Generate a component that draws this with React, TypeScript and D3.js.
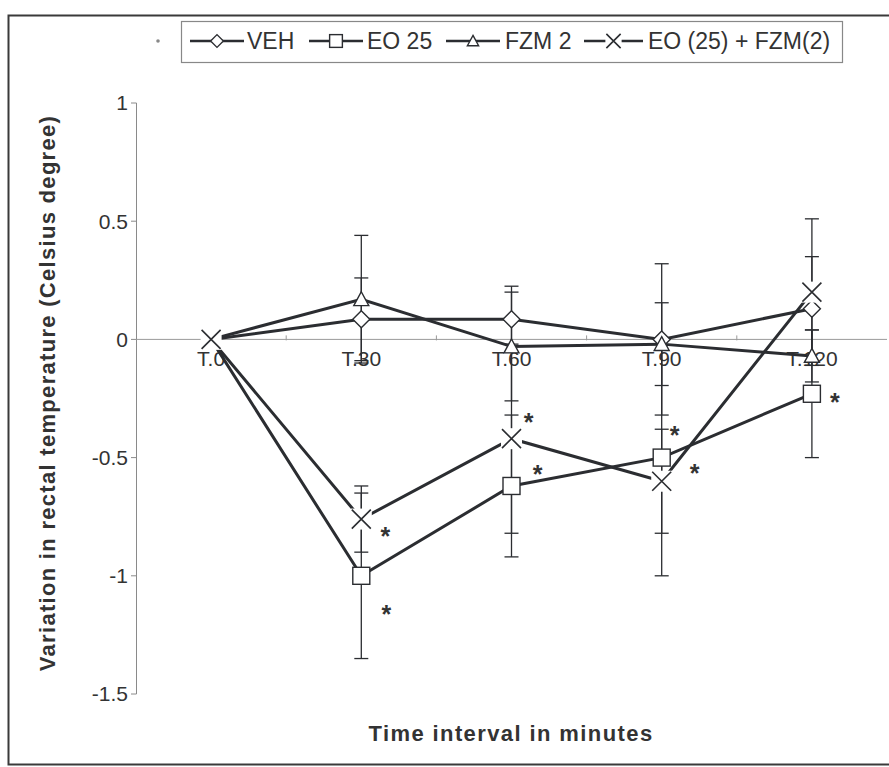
import * as d3 from 'd3'

// Rectal temperature variation, mean ± error, per treatment group
const categories = ['T.0', 'T.30', 'T.60', 'T.90', 'T.120']
const yTicks = [1, 0.5, 0, -0.5, -1, -1.5]

const vehMean = [0, 0.085, 0.085, 0.0, 0.13]
const vehErr = [0, 0.175, 0.14, 0.32, 0.22]
const eo25Mean = [0, -1.0, -0.62, -0.5, -0.23]
const eo25Err = [0, 0.35, 0.3, 0.5, 0.27]
const fzmMean = [0, 0.17, -0.03, -0.02, -0.07]
const fzmErr = [0, 0.27, 0.23, 0.175, 0.11]
const comboMean = [0, -0.76, -0.42, -0.6, 0.2]
const comboErr = [0, 0.14, 0.4, 0.22, 0.31]

// significance marks: category, value level, horizontal offset in px
const starCats = ['T.30', 'T.30', 'T.60', 'T.60', 'T.90', 'T.90', 'T.120']
const starValues = [-0.81, -1.14, -0.33, -0.55, -0.385, -0.545, -0.245]
const starDx = [24, 25, 17, 26, 13, 33, 23]

const series = [
  { name: 'VEH', mean: vehMean, err: vehErr, marker: 'diamond' },
  { name: 'EO 25', mean: eo25Mean, err: eo25Err, marker: 'square' },
  { name: 'FZM 2', mean: fzmMean, err: fzmErr, marker: 'triangle' },
  { name: 'EO (25) + FZM(2)', mean: comboMean, err: comboErr, marker: 'cross' },
]

const W = 889
const H = 767
const INK = '#2b2d31'
const FONT = '"Liberation Sans", Arial, sans-serif'

function Marker({ type, x, y, s = 1 }: { type: string; x: number; y: number; s?: number }) {
  if (type === 'diamond') {
    const r = 8.5 * s
    return (
      <path d={`M${x},${y - r}L${x + r},${y}L${x},${y + r}L${x - r},${y}Z`}
        fill="#fff" stroke={INK} strokeWidth={1.4} />
    )
  }
  if (type === 'square') {
    const r = 8.5 * s
    return <rect x={x - r} y={y - r} width={2 * r} height={2 * r} fill="#fff" stroke={INK} strokeWidth={1.4} />
  }
  if (type === 'triangle') {
    const r = 7.5 * s
    return (
      <path d={`M${x},${y - r}L${x + r},${y + r * 0.85}L${x - r},${y + r * 0.85}Z`}
        fill="#fff" stroke={INK} strokeWidth={1.4} />
    )
  }
  // x marker with Excel-like white background box
  const r = 9.5 * s
  return (
    <g>
      <rect x={x - r - 1} y={y - r - 1} width={2 * r + 2} height={2 * r + 2} fill="#fff" />
      <path d={`M${x - r},${y - r}L${x + r},${y + r}M${x + r},${y - r}L${x - r},${y + r}`}
        fill="none" stroke={INK} strokeWidth={1.6} />
    </g>
  )
}

export default function App() {
  const x = d3.scaleBand<string>().domain(categories).range([136, 887]).padding(0)
  const cx = (c: string) => (x(c) ?? 0) + x.bandwidth() / 2
  const y = d3.scaleLinear().domain([-1.5, 1]).range([694, 103])

  const line = d3.line<number>()
    .x((_, i) => cx(categories[i]))
    .y(d => y(d))

  const boundaries = categories.slice(1).map(c => x(c) ?? 0)

  // legend layout: sample line start/end and label start
  const legendItems = [
    { a: 190, b: 244, tx: 247 },
    { a: 309, b: 363, tx: 367 },
    { a: 446, b: 500, tx: 505 },
    { a: 584, b: 643, tx: 648 },
  ]
  const legendY = 41

  return (
    <div style={{ position: 'fixed', left: 0, top: 0 }}>
      <svg width={W} height={H} style={{ display: 'block', background: '#fff' }} fontFamily={FONT}>
        {/* chart border */}
        <rect x={8.5} y={15.5} width={900} height={749} fill="none" stroke="#3a3a3a" strokeWidth={2} />

        {/* y axis */}
        <line x1={136.5} x2={136.5} y1={y(1)} y2={y(-1.5)} stroke="#8a8a8a" strokeWidth={1} />
        {yTicks.map(t => (
          <g key={t}>
            <line x1={131} x2={136.5} y1={y(t)} y2={y(t)} stroke="#8a8a8a" strokeWidth={1} />
            <text x={128} y={y(t)} dy="0.35em" textAnchor="end" fontSize={21} fill="#333">{t}</text>
          </g>
        ))}

        {/* x axis at zero */}
        <line x1={136} x2={887} y1={y(0)} y2={y(0)} stroke="#9a9a9a" strokeWidth={1} />
        {boundaries.map((b, i) => (
          <line key={i} x1={b} x2={b} y1={y(0) - 4} y2={y(0) + 1} stroke="#9a9a9a" strokeWidth={1} />
        ))}
        {categories.map(c => (
          <text key={c} x={cx(c)} y={y(0) + 27} textAnchor="middle" fontSize={21} fill="#333">{c}</text>
        ))}

        {/* error bars */}
        {series.map(s => s.mean.map((m, i) => {
          if (!s.err[i]) return null
          const px = cx(categories[i])
          const hi = y(m + s.err[i])
          const lo = y(m - s.err[i])
          return (
            <g key={s.name + i} stroke={INK} strokeWidth={1.3}>
              <line x1={px} x2={px} y1={hi} y2={lo} />
              <line x1={px - 7} x2={px + 7} y1={hi} y2={hi} />
              <line x1={px - 7} x2={px + 7} y1={lo} y2={lo} />
            </g>
          )
        }))}

        {/* series lines */}
        {series.map(s => (
          <path key={s.name} d={line(s.mean) ?? ''} fill="none" stroke={INK} strokeWidth={3} />
        ))}

        {/* markers */}
        {series.map(s => s.mean.map((m, i) => (
          <Marker key={s.name + i} type={s.marker} x={cx(categories[i])} y={y(m)} />
        )))}

        {/* significance stars */}
        {starCats.map((c, i) => (
          <text key={i} x={cx(c) + starDx[i]} y={y(starValues[i]) + 14} textAnchor="middle"
            fontSize={25} fontWeight="bold" fill="#333">*</text>
        ))}

        {/* axis titles */}
        <text transform={`translate(55,393) rotate(-90)`} textAnchor="middle" fontSize={22}
          fontWeight="bold" fill="#333" letterSpacing={1.3}>Variation in rectal temperature (Celsius degree)</text>
        <text x={511} y={741} textAnchor="middle" fontSize={22} fontWeight="bold" fill="#333"
          letterSpacing={1.4}>Time interval in minutes</text>

        {/* legend */}
        <circle cx={158} cy={legendY} r={1.8} fill="#888" />
        <rect x={181.5} y={21.5} width={661} height={41} fill="#fff" stroke="#888" strokeWidth={1.2} />
        {series.map((s, i) => {
          const it = legendItems[i]
          return (
            <g key={s.name}>
              <line x1={it.a} x2={it.b} y1={legendY} y2={legendY} stroke={INK} strokeWidth={2.5} />
              <Marker type={s.marker} x={(it.a + it.b) / 2} y={legendY} s={0.75} />
              <text x={it.tx} y={legendY} dy="0.36em" fontSize={23} fill="#333">{s.name}</text>
            </g>
          )
        })}
      </svg>
    </div>
  )
}
